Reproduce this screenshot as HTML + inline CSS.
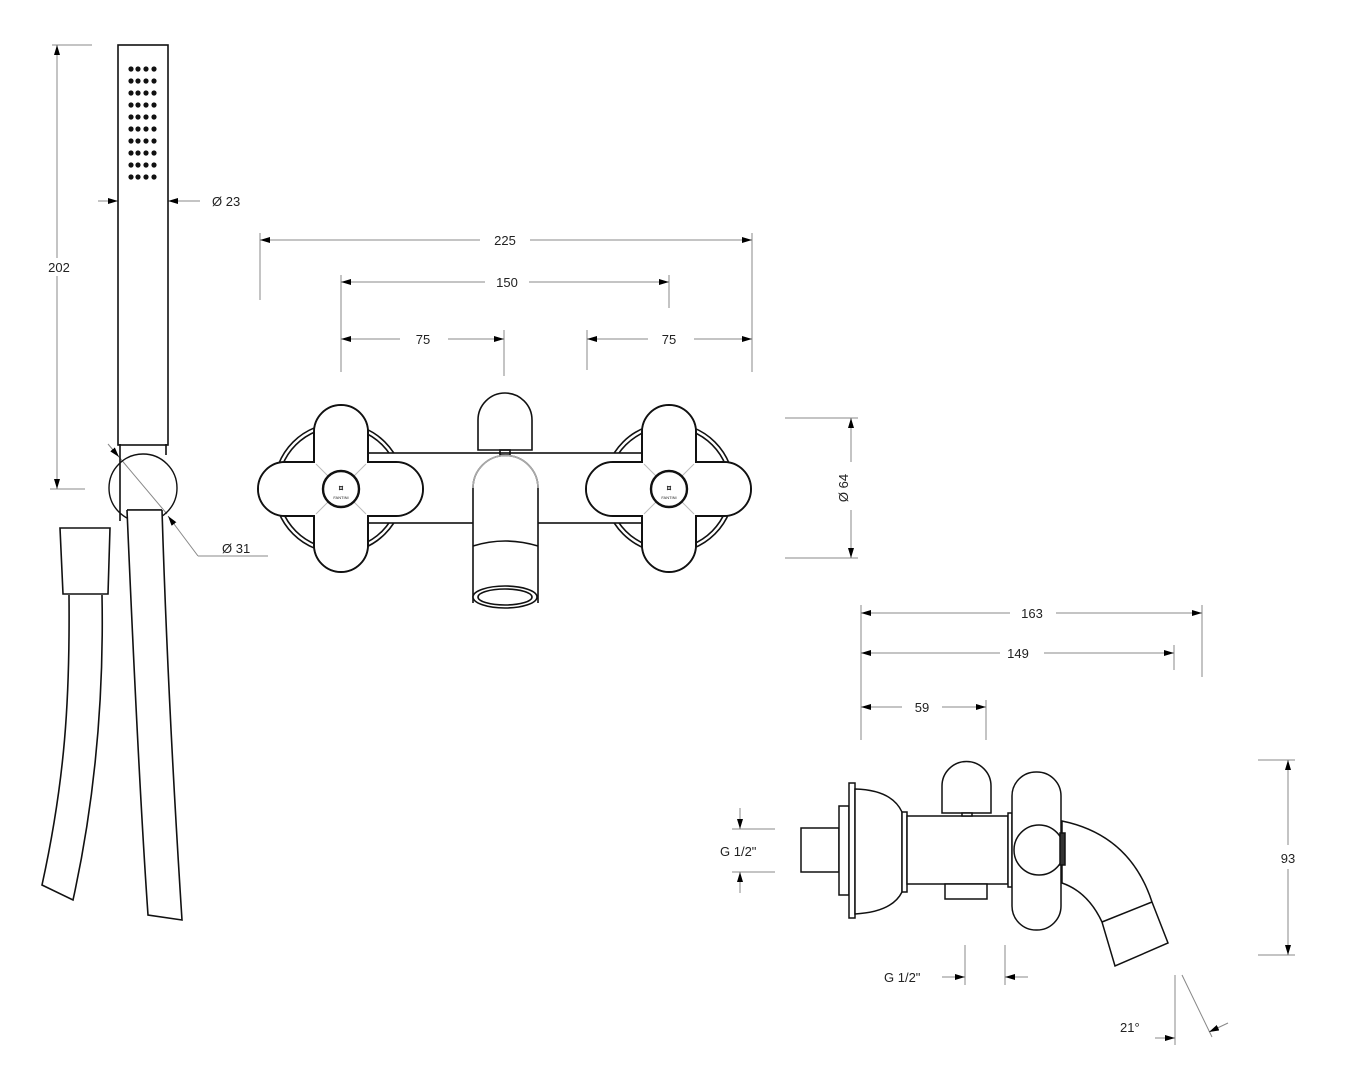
<!DOCTYPE html>
<html><head><meta charset="utf-8"><style>
html,body{margin:0;padding:0;background:#fff;width:1350px;height:1080px;overflow:hidden}
text{font-family:"Liberation Sans",Arial,sans-serif;font-size:13px;fill:#222}
</style></head><body>
<svg width="1350" height="1080" viewBox="0 0 1350 1080" xmlns="http://www.w3.org/2000/svg">
<defs>
<marker id="a" viewBox="0 0 10 6" refX="10" refY="3" markerWidth="10" markerHeight="6" orient="auto-start-reverse" markerUnits="userSpaceOnUse"><path d="M0,0L10,3L0,6z" fill="#000"/></marker>
</defs>
<g stroke="#888" stroke-width="1" fill="none">
<!-- 202 -->
<line x1="52" y1="45" x2="92" y2="45"/><line x1="50" y1="489" x2="85" y2="489"/>
<line x1="57" y1="45" x2="57" y2="489" marker-start="url(#a)" marker-end="url(#a)"/>
<!-- d23 -->
<line x1="98" y1="201" x2="118" y2="201" marker-end="url(#a)"/>
<line x1="200" y1="201" x2="168" y2="201" marker-end="url(#a)"/>
<!-- d31 -->
<line x1="108" y1="444" x2="119" y2="457" marker-end="url(#a)"/>
<line x1="119" y1="457" x2="167" y2="514"/>
<line x1="198" y1="556" x2="168" y2="516" marker-end="url(#a)"/>
<line x1="198" y1="556" x2="268" y2="556"/>
<!-- 225 -->
<line x1="260" y1="233" x2="260" y2="300"/><line x1="752" y1="233" x2="752" y2="372"/>
<line x1="260" y1="240" x2="752" y2="240" marker-start="url(#a)" marker-end="url(#a)"/>
<line x1="341" y1="275" x2="341" y2="372"/><line x1="669" y1="275" x2="669" y2="308"/>
<line x1="341" y1="282" x2="669" y2="282" marker-start="url(#a)" marker-end="url(#a)"/>
<line x1="504" y1="330" x2="504" y2="376"/><line x1="587" y1="330" x2="587" y2="370"/>
<line x1="341" y1="339" x2="504" y2="339" marker-start="url(#a)" marker-end="url(#a)"/>
<line x1="587" y1="339" x2="752" y2="339" marker-start="url(#a)" marker-end="url(#a)"/>
<!-- d64 -->
<line x1="785" y1="418" x2="858" y2="418"/><line x1="785" y1="558" x2="858" y2="558"/>
<line x1="851" y1="418" x2="851" y2="558" marker-start="url(#a)" marker-end="url(#a)"/>
<!-- 163/149/59 -->
<line x1="861" y1="605" x2="861" y2="740"/><line x1="1202" y1="605" x2="1202" y2="677"/>
<line x1="1174" y1="645" x2="1174" y2="670"/><line x1="986" y1="700" x2="986" y2="740"/>
<line x1="861" y1="613" x2="1202" y2="613" marker-start="url(#a)" marker-end="url(#a)"/>
<line x1="861" y1="653" x2="1174" y2="653" marker-start="url(#a)" marker-end="url(#a)"/>
<line x1="861" y1="707" x2="986" y2="707" marker-start="url(#a)" marker-end="url(#a)"/>
<!-- 93 -->
<line x1="1258" y1="760" x2="1295" y2="760"/><line x1="1258" y1="955" x2="1295" y2="955"/>
<line x1="1288" y1="760" x2="1288" y2="955" marker-start="url(#a)" marker-end="url(#a)"/>
<!-- G1/2 left -->
<line x1="732" y1="829" x2="775" y2="829"/><line x1="732" y1="872" x2="775" y2="872"/>
<line x1="740" y1="808" x2="740" y2="829" marker-end="url(#a)"/>
<line x1="740" y1="893" x2="740" y2="872" marker-end="url(#a)"/>
<!-- G1/2 bottom -->
<line x1="965" y1="945" x2="965" y2="985"/><line x1="1005" y1="945" x2="1005" y2="985"/>
<line x1="942" y1="977" x2="965" y2="977" marker-end="url(#a)"/>
<line x1="1028" y1="977" x2="1005" y2="977" marker-end="url(#a)"/>
<!-- 21 -->
<line x1="1175" y1="975" x2="1175" y2="1045"/><line x1="1182" y1="975" x2="1212" y2="1037"/>
<line x1="1155" y1="1038" x2="1175" y2="1038" marker-end="url(#a)"/>
<line x1="1228" y1="1023" x2="1209" y2="1032" marker-end="url(#a)"/>
</g>
<g fill="#fff">
<rect x="42" y="258" width="34" height="18"/><rect x="480" y="231" width="50" height="18"/>
<rect x="485" y="273" width="44" height="18"/><rect x="400" y="330" width="48" height="18"/>
<rect x="648" y="330" width="46" height="18"/><rect x="842" y="462" width="18" height="48"/>
<rect x="1010" y="604" width="46" height="18"/><rect x="1000" y="644" width="44" height="18"/>
<rect x="902" y="698" width="40" height="18"/><rect x="1278" y="845" width="22" height="24"/>
</g>
<g text-anchor="middle">
<text x="59" y="272">202</text><text x="505" y="245">225</text><text x="507" y="287">150</text>
<text x="423" y="344">75</text><text x="669" y="344">75</text>
<text x="1032" y="618">163</text><text x="1018" y="658">149</text><text x="922" y="712">59</text>
<text x="1288" y="863">93</text>
<text transform="translate(848,488) rotate(-90)">Ø 64</text>
</g>
<text x="212" y="206">Ø 23</text><text x="222" y="553">Ø 31</text>
<text x="720" y="856">G 1/2"</text><text x="884" y="982">G 1/2"</text>
<text x="1120" y="1032">21°</text>

<g stroke="#111" stroke-width="1.6" fill="none">
<!-- hand shower -->
<rect x="118" y="45" width="50" height="400" fill="#fff"/>
<line x1="120" y1="444" x2="120" y2="521"/><line x1="166" y1="444" x2="166" y2="455"/>
<path d="M127,510 L162,510" />
<circle cx="143" cy="488" r="34" stroke-width="1.4"/>
<path d="M127,510 C133,650 140,800 148,915 L182,920 C173,780 166,640 162,510" fill="#fff"/>
<line x1="127" y1="510" x2="162" y2="510"/>
<path d="M60,528 L110,528 L108,594 L63,594 Z" fill="#fff"/>
<path d="M69,595 C70,700 65,780 42,885 L73,900 C95,800 104,700 102,595" fill="#fff"/>
</g>
<g fill="#111">
<g id="row"><circle cx="131" cy="69" r="2.6"/><circle cx="138" cy="69" r="2.6"/><circle cx="146" cy="69" r="2.6"/><circle cx="154" cy="69" r="2.6"/></g>
<use href="#row" y="12"/><use href="#row" y="24"/><use href="#row" y="36"/><use href="#row" y="48"/>
<use href="#row" y="60"/><use href="#row" y="72"/><use href="#row" y="84"/><use href="#row" y="96"/><use href="#row" y="108"/>
</g>

<!-- front view -->
<g stroke="#111" stroke-width="1.6" fill="none">
<circle cx="339" cy="488" r="65"/><circle cx="339" cy="488" r="61"/>
<circle cx="669" cy="488" r="65"/><circle cx="669" cy="488" r="61"/>
<rect x="345" y="453" width="320" height="70" fill="#fff"/>
<path d="M478,450 L478,420 A27,27 0 0 1 532,420 L532,450 Z" fill="#fff"/>
<rect x="500" y="450" width="10" height="5"/>
<path d="M473,603 L473,488 A32,32 0 0 1 538,488 L538,603" fill="#fff"/>
<path d="M473,488 A32,32 0 0 1 538,488" stroke="#aaa"/>
<path d="M473,546 Q505,536 538,546"/>
<ellipse cx="505" cy="597" rx="32" ry="11" fill="#fff"/><ellipse cx="505" cy="597" rx="27" ry="8"/>
</g>
<g id="hnd">
<g stroke="#111" stroke-width="2" fill="#fff">
<rect x="314" y="405" width="54" height="167" rx="27"/>
<rect x="258" y="462" width="165" height="54" rx="27"/>
</g>
<g fill="#fff"><rect x="315" y="406" width="52" height="165" rx="26"/><rect x="259" y="463" width="163" height="52" rx="26"/></g>
<g stroke="#bbb" stroke-width="1"><line x1="316" y1="464" x2="366" y2="514"/><line x1="366" y1="464" x2="316" y2="514"/></g>
<circle cx="341" cy="489" r="18" fill="#fff" stroke="#111" stroke-width="2.4"/>
<text x="341" y="491" text-anchor="middle" style="font-size:9px;font-weight:bold">¤</text>
<text x="341" y="499" text-anchor="middle" style="font-size:4px">FANTINI</text>
</g>
<use href="#hnd" x="328"/>

<!-- side view -->
<g stroke="#111" stroke-width="1.5" fill="#fff">
<rect x="801" y="828" width="38" height="44"/>
<rect x="839" y="806" width="10" height="89"/>
<rect x="849" y="783" width="6" height="135"/>
<path d="M855,789 Q892,790 902,812 L902,892 Q892,912 855,914 Z"/>
<rect x="902" y="812" width="5" height="80"/>
<rect x="907" y="816" width="101" height="68"/>
<rect x="945" y="884" width="42" height="15"/>
<path d="M942,813 L942,786 A24.5,24.5 0 0 1 991,786 L991,813 Z"/>
<rect x="962" y="813" width="10" height="3"/>
<rect x="1008" y="813" width="4" height="74"/>
<path d="M1062,821 Q1130,835 1152,902 L1168,943 L1115,966 L1102,922 Q1088,892 1062,883 Z"/>
<line x1="1102" y1="922" x2="1152" y2="902"/>
<rect x="1012" y="772" width="49" height="158" rx="24"/>
<circle cx="1039" cy="850" r="25"/>
<rect x="1060" y="833" width="5" height="32" fill="#333"/>
</g>
</svg>
</body></html>
